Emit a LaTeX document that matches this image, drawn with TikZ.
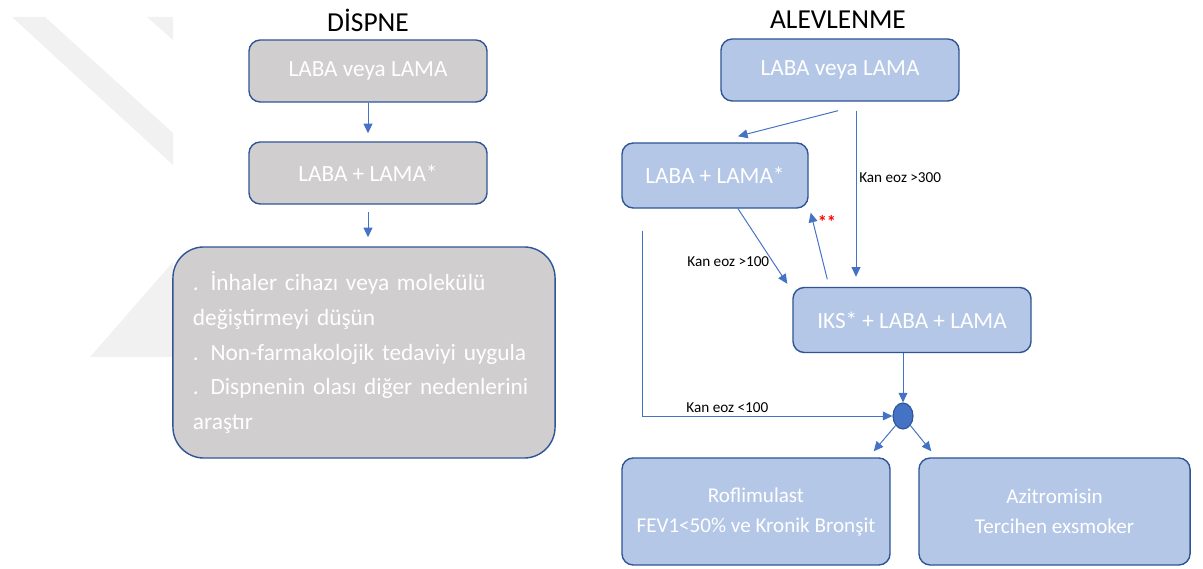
\documentclass[tikz,border=0pt]{standalone}
\usepackage{fontspec}
\setmainfont{Carlito}
\usetikzlibrary{arrows.meta, positioning, calc, shapes.geometric}
\definecolor{boxblue}{HTML}{B4C7E7}
\definecolor{boxgray}{HTML}{D0CECE}
\definecolor{edgeblue}{HTML}{2F5597}
\definecolor{arrblue}{HTML}{4472C4}
\definecolor{wmark}{HTML}{F1F1F1}

\begin{document}
\begin{tikzpicture}[
    x=0.025cm, y=-0.025cm,
    >={Triangle[length=2.4mm, width=2.2mm]},
    flow/.style={->, draw=arrblue, line width=0.7pt},
    titlelbl/.style={font=\fontsize{19.5}{22}\selectfont, text=black},
    stepbox/.style={rounded corners=8pt, line width=1pt, draw=edgeblue,
      text=white, align=center, font=\fontsize{16.5}{20}\selectfont,
      minimum width=5.95cm, minimum height=1.55cm, inner sep=4pt},
    graybox/.style={stepbox, fill=boxgray},
    bluebox/.style={stepbox, fill=boxblue},
    eozlbl/.style={font=\fontsize{10.8}{12}\selectfont, text=black, inner sep=2pt},
  ]

  % Page and watermark
  \useasboundingbox (0,0) rectangle (1203,569);
  \fill[wmark] (12,17) -- (45,17) -- (173,133) -- (173,165) -- cycle;
  \fill[wmark] (147,17) -- (173,17) -- (173,40) -- cycle;
  \fill[wmark] (90,357) -- (173,262) -- (173,357) -- cycle;

  % Dispne column
  \node[titlelbl] (dtitle) at (368,20) {DİSPNE};
  \node[graybox] (d1) at (368,71) {LABA veya LAMA};
  \node[graybox] (d2) at (368,173) {LABA + LAMA*};
  \node[graybox, rounded corners=22pt, minimum width=9.55cm, minimum height=5.275cm,
    align=left, text width=8.55cm, font=\fontsize{16.6}{24.8}\selectfont]
    (d3) at (364,352.5)
    {. İnhaler cihazı veya molekülü\\değiştirmeyi düşün\\. Non-farmakolojik tedaviyi uygula\\. Dispnenin olası diğer nedenlerini\\araştır};

  \draw[flow, shorten >=0.2cm] (d1) -- (d2);
  \draw[flow] ($(d2.south)+(0,7)$) -- ($(d3.north)+(4,-9)$);

  % Alevlenme column
  \node[titlelbl] (atitle) at (838,20) {ALEVLENME};
  \node[bluebox] (a1) at (840,70) {LABA veya LAMA};
  \node[bluebox, minimum width=4.65cm, minimum height=1.625cm] (a2) at (715,175.5) {LABA + LAMA*};
  \node[bluebox, minimum width=5.95cm, minimum height=1.625cm] (a3) at (912,320) {IKS* + LABA + LAMA};
  \node[ellipse, fill=arrblue, draw=edgeblue, line width=0.8pt,
    minimum width=0.5cm, minimum height=0.65cm, inner sep=0pt] (junc) at (903,416) {};
  \node[bluebox, minimum width=6.7cm, minimum height=2.675cm, font=\fontsize{15}{21.3}\selectfont]
    (a4) at (756,511.5) {Roflimulast\\FEV1<50\% ve Kronik Bronşit};
  \node[bluebox, minimum width=6.775cm, minimum height=2.675cm, font=\fontsize{15}{21.3}\selectfont]
    (a5) at (1054.5,511.5) {Azitromisin\\Tercihen exsmoker};

  \draw[flow] ($(a1.south)+(-2,9)$) -- ($(a2.north)+(23,-6)$);
  \draw[flow] ($(a1.south)+(16,9)$) -- ($(a3.north)+(-56,-10)$)
    node[eozlbl, pos=0.4, right] {Kan eoz >300};
  \draw[flow] ($(a2.south)+(23,0)$) -- ($(a3.north west)+(-5,-3)$)
    node[eozlbl, pos=0.7, left] {Kan eoz >100};
  \draw[flow] ($(a3.north west)+(35,-7.5)$) -- ($(a2.south east)+(2,4)$)
    node[pos=0.86, right, text=red, font=\fontsize{13}{13}\selectfont\bfseries, inner sep=3pt] {**};
  \draw[flow] ($(a2.south west)+(21,22)$) |- (junc.west)
    node[eozlbl, pos=0.67, above] {Kan eoz <100};
  \draw[flow] ($(a3.south)+(-9,0)$) -- (junc.north);
  \draw[flow] (junc.south west) -- ($(a4.north east)+(-17,-6)$);
  \draw[flow] (junc.south east) -- ($(a5.north west)+(13,-6)$);

\end{tikzpicture}
\end{document}
